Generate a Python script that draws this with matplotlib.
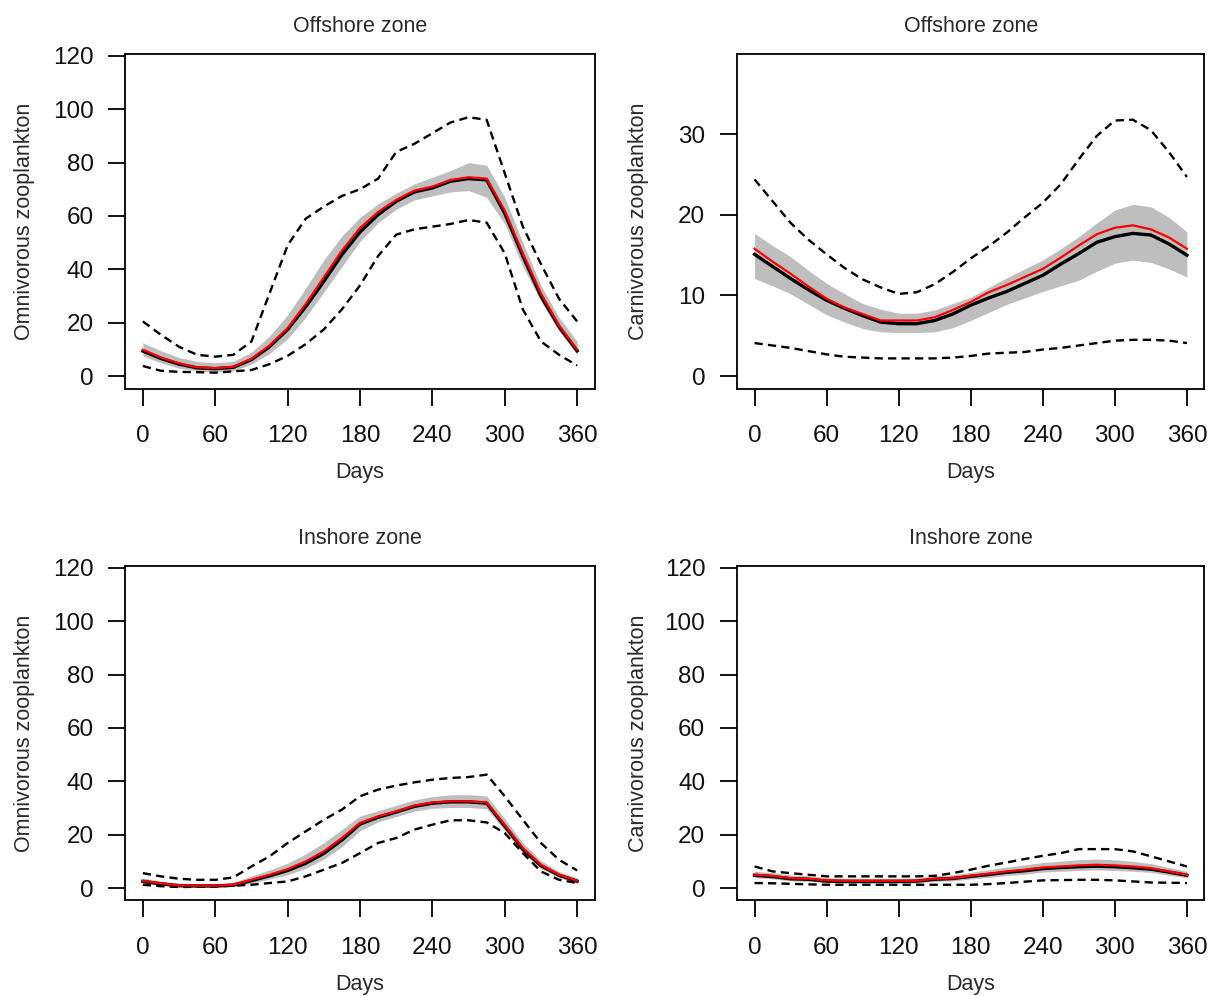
import numpy as np
import matplotlib
matplotlib.use('Agg')
import matplotlib.pyplot as plt

plt.rcParams['font.family'] = ['Liberation Sans', 'DejaVu Sans']

# day grid shared by all panels
days = [0, 15, 30, 45, 60, 75, 90, 105, 120, 135, 150, 165, 180,
        195, 210, 225, 240, 255, 270, 285, 300, 315, 330, 345, 360]

# --- Offshore, omnivorous ---
off_omni_red = [9.9, 7.0, 4.8, 3.3, 3.0, 3.5, 6.5, 11.5, 18.0, 27.0, 37.0, 47.0, 55.5,
                61.5, 66.0, 69.5, 71.0, 73.5, 74.5, 74.0, 62.0, 46.0, 31.0, 19.0, 10.0]
off_omni_black = [9.4, 6.6, 4.5, 3.1, 2.8, 3.3, 6.2, 11.0, 17.5, 26.0, 35.5, 45.5, 54.0,
                  60.5, 65.5, 69.0, 70.5, 73.0, 74.0, 73.5, 61.0, 45.0, 30.0, 18.5, 9.5]
off_omni_band_hi = [12.5, 9.5, 7.0, 5.5, 5.0, 5.5, 9.0, 15.0, 23.0, 33.0, 43.5, 52.5, 59.5,
                    64.5, 68.5, 72.0, 74.5, 77.0, 80.0, 79.0, 67.0, 50.0, 34.0, 22.0, 13.0]
off_omni_band_lo = [7.5, 5.0, 3.0, 2.0, 1.5, 2.0, 4.5, 8.5, 14.0, 22.0, 31.5, 41.0, 50.5,
                    57.5, 62.5, 66.0, 67.5, 69.0, 69.5, 67.0, 57.0, 41.0, 28.0, 17.0, 8.0]
off_omni_dash_hi = [20.5, 15.5, 11.0, 8.0, 7.3, 8.0, 13.0, 31.0, 49.0, 59.0, 63.5, 67.5, 70.0,
                    74.0, 84.0, 87.0, 91.0, 95.0, 97.0, 96.0, 76.0, 56.0, 42.0, 29.0, 20.5]
off_omni_dash_lo = [3.8, 2.0, 1.6, 1.5, 1.3, 1.8, 2.3, 4.5, 7.6, 12.0, 17.5, 25.0, 34.0,
                    45.0, 53.0, 55.0, 56.0, 57.0, 58.5, 57.5, 46.0, 25.0, 13.0, 8.0, 4.0]

# --- Offshore, carnivorous ---
off_carn_red = [15.8, 14.2, 12.7, 11.1, 9.6, 8.5, 7.7, 6.9, 6.9, 6.9, 7.3, 8.2, 9.2,
                10.4, 11.3, 12.3, 13.3, 14.7, 16.2, 17.6, 18.4, 18.7, 18.2, 17.2, 15.8]
off_carn_black = [15.1, 13.6, 12.1, 10.7, 9.4, 8.4, 7.5, 6.7, 6.5, 6.5, 6.9, 7.7, 8.8,
                  9.7, 10.5, 11.5, 12.5, 13.9, 15.2, 16.6, 17.3, 17.7, 17.5, 16.4, 15.0]
off_carn_band_hi = [17.7, 16.2, 14.8, 13.1, 11.5, 10.2, 9.0, 8.3, 7.8, 7.8, 8.2, 9.0, 9.8,
                    11.0, 12.2, 13.3, 14.4, 15.8, 17.3, 19.0, 20.6, 21.3, 21.0, 19.7, 17.9]
off_carn_band_lo = [12.1, 11.2, 10.2, 8.9, 7.6, 6.7, 5.9, 5.5, 5.4, 5.4, 5.5, 6.0, 6.9,
                    7.9, 8.9, 9.7, 10.5, 11.2, 11.9, 13.0, 14.0, 14.4, 14.1, 13.3, 12.3]
off_carn_dash_hi = [24.4, 21.7, 19.0, 16.9, 15.1, 13.4, 12.0, 11.0, 10.2, 10.4, 11.4, 12.9, 14.6,
                    16.1, 17.8, 19.7, 21.5, 23.8, 26.9, 29.8, 31.7, 31.8, 30.5, 27.8, 24.7]
off_carn_dash_lo = [4.1, 3.8, 3.5, 3.1, 2.7, 2.4, 2.3, 2.2, 2.2, 2.2, 2.2, 2.3, 2.5,
                    2.8, 2.9, 3.0, 3.3, 3.5, 3.8, 4.1, 4.4, 4.5, 4.5, 4.4, 4.1]

# --- Inshore, omnivorous ---
in_omni_red = [2.75, 1.8, 1.0, 0.9, 0.9, 1.25, 3.1, 5.0, 7.1, 10.0, 13.75, 18.75, 24.4,
               26.9, 28.75, 30.9, 32.1, 32.5, 32.5, 32.1, 23.75, 15.0, 8.75, 5.0, 2.75]
in_omni_black = [2.5, 1.6, 0.9, 0.8, 0.8, 1.1, 2.8, 4.6, 6.6, 9.3, 13.0, 18.0, 24.0,
                 26.5, 28.5, 30.6, 31.8, 32.3, 32.3, 31.8, 23.2, 14.5, 8.4, 4.8, 2.6]
in_omni_band_hi = [3.8, 2.6, 1.8, 1.6, 1.6, 2.2, 4.5, 6.8, 9.3, 12.8, 17.0, 22.0, 27.0,
                   29.0, 31.0, 33.0, 34.3, 34.9, 35.0, 34.5, 26.0, 17.0, 10.3, 6.2, 3.8]
in_omni_band_lo = [1.8, 1.0, 0.5, 0.4, 0.4, 0.6, 1.8, 3.4, 5.0, 7.4, 10.8, 15.5, 21.5,
                   24.8, 26.8, 28.8, 29.9, 30.2, 30.2, 29.7, 21.5, 13.0, 7.3, 3.9, 1.8]
in_omni_dash_hi = [5.6, 4.4, 3.5, 3.1, 3.1, 4.0, 8.1, 11.9, 16.9, 21.25, 25.6, 29.4, 34.4,
                   36.9, 38.4, 39.6, 40.6, 41.25, 41.6, 42.5, 34.4, 25.6, 16.9, 10.6, 6.6]
in_omni_dash_lo = [1.25, 0.7, 0.4, 0.5, 0.6, 0.9, 1.25, 1.9, 2.5, 4.4, 6.9, 9.4, 13.1,
                   16.9, 18.75, 21.9, 23.75, 25.4, 25.4, 24.6, 20.6, 13.1, 6.25, 3.1, 1.9]

# --- Inshore, carnivorous ---
in_carn_red = [5.0, 4.6, 3.75, 3.5, 2.9, 2.75, 2.75, 2.75, 2.75, 2.75, 3.5, 3.75, 4.6,
               5.4, 6.25, 6.9, 7.75, 8.1, 8.5, 8.75, 8.5, 8.1, 7.5, 6.25, 5.0]
in_carn_black = [4.8, 4.3, 3.5, 3.3, 2.6, 2.5, 2.5, 2.5, 2.5, 2.6, 3.3, 3.6, 4.4,
                 5.1, 5.9, 6.5, 7.3, 7.7, 8.0, 8.2, 8.0, 7.6, 7.1, 6.0, 4.8]
in_carn_band_hi = [6.3, 5.8, 4.9, 4.6, 3.9, 3.7, 3.7, 3.7, 3.7, 3.8, 4.6, 5.0, 5.9,
                   6.9, 7.9, 8.7, 9.6, 10.1, 10.6, 10.9, 10.6, 10.0, 9.2, 7.7, 6.3]
in_carn_band_lo = [3.9, 3.5, 2.7, 2.5, 2.0, 1.9, 1.9, 1.9, 1.9, 1.9, 2.5, 2.7, 3.4,
                   4.0, 4.7, 5.2, 6.0, 6.3, 6.6, 6.8, 6.6, 6.3, 5.9, 4.8, 3.9]
in_carn_dash_hi = [8.1, 6.25, 5.6, 5.0, 4.4, 4.4, 4.4, 4.4, 4.4, 4.4, 4.6, 5.6, 6.9,
                   8.4, 9.6, 10.9, 12.1, 13.1, 14.6, 14.6, 14.6, 13.75, 11.9, 10.0, 8.1]
in_carn_dash_lo = [1.9, 1.8, 1.6, 1.4, 1.25, 1.25, 1.25, 1.25, 1.25, 1.25, 1.25, 1.25, 1.25,
                   1.5, 1.9, 2.4, 2.9, 3.0, 3.1, 3.1, 2.9, 2.5, 2.1, 2.0, 1.9]

xticks = [0, 60, 120, 180, 240, 300, 360]
TXT = '#2a2a2a'


def draw_panel(ax, title, ylabel, red, black, band_lo, band_hi, dash_lo, dash_hi,
               ylim, yticks, ylab_x):
    ax.fill_between(days, band_lo, band_hi, color='#bebebe', lw=0)
    ax.plot(days, dash_hi, color='black', lw=1.7, dashes=(3.5, 2.2))
    ax.plot(days, dash_lo, color='black', lw=1.7, dashes=(3.5, 2.2))
    ax.plot(days, black, color='black', lw=2.4)
    ax.plot(days, red, color='red', lw=1.6)

    ax.set_xlim(-14.4, 374.4)
    ax.set_ylim(*ylim)
    ax.set_xticks(xticks)
    ax.set_yticks(yticks)
    ax.tick_params(axis='both', length=12, width=1.3, labelsize=17.5,
                   direction='out', colors='black', labelcolor='#111111')
    ax.tick_params(axis='x', pad=14)
    ax.tick_params(axis='y', pad=11)
    for sp in ax.spines.values():
        sp.set_linewidth(1.3)

    ax.set_title(title, fontsize=15.5, color=TXT, pad=16)
    ax.set_xlabel('Days', fontsize=15.5, color=TXT, labelpad=11)
    ax.set_ylabel(ylabel, fontsize=15.5, color=TXT)
    ax.yaxis.set_label_coords(ylab_x, 0.5)


fig = plt.figure(figsize=(12.16, 9.96), dpi=100)

lx, rx = 0.1032, 0.6063
lw_, rw_ = 0.3857, 0.3840
ty, by = 0.6099, 0.0959
h = 0.3358

ax1 = fig.add_axes([lx, ty, lw_, h])
ax2 = fig.add_axes([rx, ty, rw_, h])
ax3 = fig.add_axes([lx, by, lw_, h])
ax4 = fig.add_axes([rx, by, rw_, h])

big_ticks = [0, 20, 40, 60, 80, 100, 120]

draw_panel(ax1, 'Offshore zone', 'Omnivorous zooplankton',
           off_omni_red, off_omni_black, off_omni_band_lo, off_omni_band_hi,
           off_omni_dash_lo, off_omni_dash_hi, (-4.64, 120.64), big_ticks, -0.192)
draw_panel(ax2, 'Offshore zone', 'Carnivorous zooplankton',
           off_carn_red, off_carn_black, off_carn_band_lo, off_carn_band_hi,
           off_carn_dash_lo, off_carn_dash_hi, (-1.54, 39.94), [0, 10, 20, 30], -0.189)
draw_panel(ax3, 'Inshore zone', 'Omnivorous zooplankton',
           in_omni_red, in_omni_black, in_omni_band_lo, in_omni_band_hi,
           in_omni_dash_lo, in_omni_dash_hi, (-4.64, 120.64), big_ticks, -0.192)
draw_panel(ax4, 'Inshore zone', 'Carnivorous zooplankton',
           in_carn_red, in_carn_black, in_carn_band_lo, in_carn_band_hi,
           in_carn_dash_lo, in_carn_dash_hi, (-4.64, 120.64), big_ticks, -0.189)

fig.savefig('out.png', dpi=100)
plt.close(fig)
